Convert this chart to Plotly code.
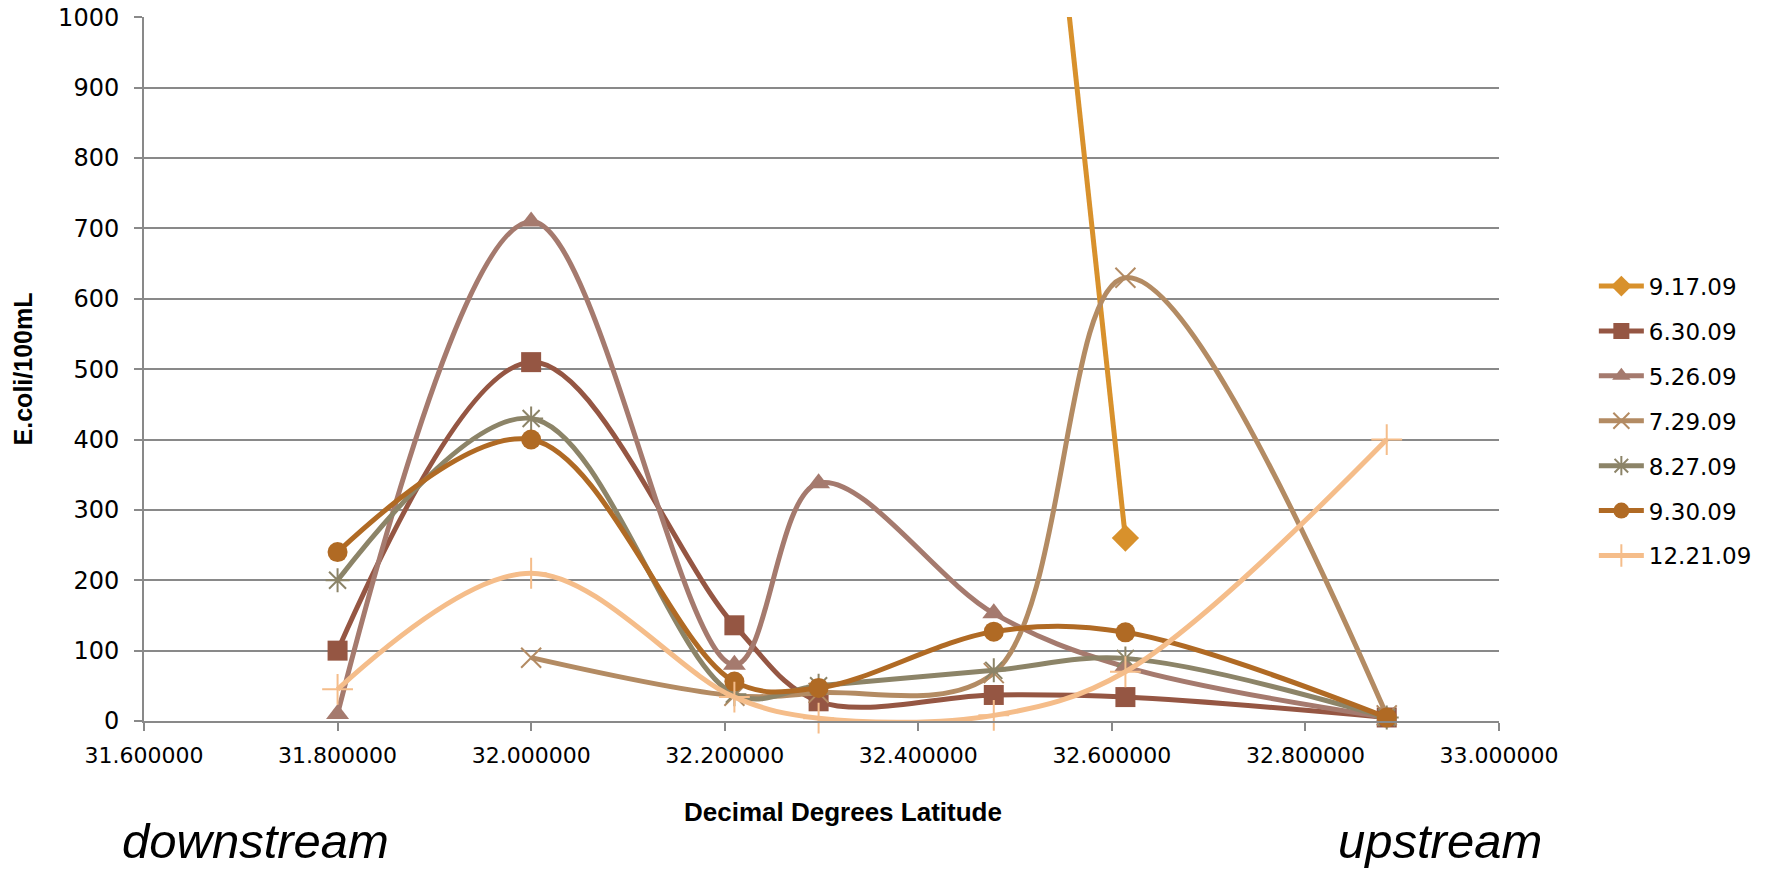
import plotly.graph_objects as go

# ---- data ----
latitude = [31.800, 32.000, 32.210, 32.297, 32.478, 32.614, 32.884]
series_names = ["9.17.09", "6.30.09", "5.26.09", "7.29.09", "8.27.09", "9.30.09", "12.21.09"]
s_0917 = [None, None, None, None, 2000, 260, None]
s_0630 = [100, 510, 136, 28, 37, 34, 5]
s_0526 = [10, 710, 80, 338, 153, 77, 5]
s_0729 = [None, 90, 36, 40, 68, 630, 8]
s_0827 = [200, 430, 38, 50, 72, 89, 5]
s_0930 = [240, 400, 56, 47, 127, 126, 5]
s_1221 = [45, 210, 34, 4, 8, 70, 400]
y_ticks = [0, 100, 200, 300, 400, 500, 600, 700, 800, 900, 1000]
x_ticks = [31.6, 31.8, 32.0, 32.2, 32.4, 32.6, 32.8, 33.0]

values = [s_0917, s_0630, s_0526, s_0729, s_0827, s_0930, s_1221]
colors = ["#D8912C", "#955643", "#A57A6E", "#B38B63", "#8C8468", "#B06A24", "#F5BD8A"]
symbols = ["diamond", "square", "triangle-up", "x-thin-open", "asterisk-open", "circle", "cross-thin-open"]
sizes = [21, 20, 20, 20, 20, 20, 22]

ARIAL = "Liberation Sans, Arial, sans-serif"
NUM = "DejaVu Sans, Liberation Sans, sans-serif"

fig = go.Figure()
for i, (name, vals) in enumerate(zip(series_names, values)):
    thin = symbols[i].endswith("-open")
    fig.add_trace(go.Scatter(
        x=latitude, y=vals, name=name, mode="lines+markers",
        line=dict(color=colors[i], width=5, shape="spline", smoothing=1.0),
        marker=dict(symbol=symbols[i], size=sizes[i], color=colors[i],
                    line=dict(color=colors[i], width=2 if thin else 0)),
        cliponaxis=False, legendgroup=name,
    ))

fig.update_layout(
    width=1790, height=871,
    margin=dict(l=144, r=291, t=17, b=150, autoexpand=False),
    paper_bgcolor="white", plot_bgcolor="white",
    font=dict(family=ARIAL, color="black"),
    showlegend=True,
    legend=dict(x=1.07, y=0.426, xanchor="left", yanchor="middle",
                font=dict(size=23, family=NUM), tracegroupgap=12,
                traceorder="grouped", itemwidth=45),
    xaxis=dict(range=[31.6, 33.0], tickvals=x_ticks, tickformat=".6f",
               showgrid=False, zeroline=False, showline=True, automargin=False,
               linecolor="#898989", linewidth=2, ticks="outside", ticklen=8,
               tickcolor="#898989", tickwidth=2, ticklabelstandoff=6,
               ticklabeloverflow="allow",
               tickfont=dict(size=22, family=NUM)),
    yaxis=dict(range=[0, 1000.5], tickvals=y_ticks, showgrid=True, automargin=False,
               gridcolor="#898989", gridwidth=1.75, zeroline=False, showline=True,
               linecolor="#898989", linewidth=2, ticks="outside", ticklen=8,
               tickcolor="#898989", tickwidth=2, ticklabelstandoff=10,
               ticklabeloverflow="allow",
               tickfont=dict(size=24, family=NUM)),
    annotations=[
        dict(text="<b>E.coli/100mL</b>", xref="paper", yref="paper", x=-0.089, y=0.5,
             textangle=-90, showarrow=False, xanchor="center", yanchor="middle",
             font=dict(size=25, family=ARIAL)),
        dict(text="<b>Decimal Degrees Latitude</b>", xref="paper", yref="paper",
             x=0.516, y=-0.129, showarrow=False, xanchor="center", yanchor="middle",
             font=dict(size=26, family=ARIAL)),
        dict(text="<i>downstream</i>", xref="paper", yref="paper", x=-0.0177, y=-0.170,
             showarrow=False, xanchor="left", yanchor="middle",
             font=dict(size=49, family=ARIAL)),
        dict(text="<i>upstream</i>", xref="paper", yref="paper", x=0.88, y=-0.170,
             showarrow=False, xanchor="left", yanchor="middle",
             font=dict(size=49, family=ARIAL)),
    ],
)

fig.write_html("out.html", config={"displayModeBar": False},
               post_script="document.body.style.margin='0';")
